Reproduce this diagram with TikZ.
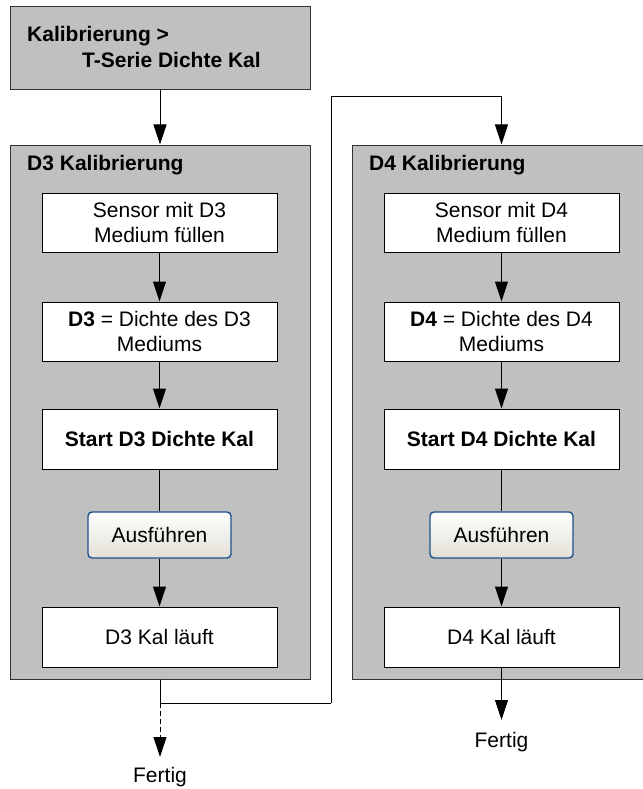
\documentclass[tikz,border=0pt]{standalone}
\usepackage{fontspec}
\setmainfont{Liberation Sans}
\usetikzlibrary{arrows.meta,calc}
\definecolor{panelgray}{RGB}{192,192,192}
\definecolor{panelborder}{RGB}{50,50,50}
\definecolor{btnblue}{RGB}{30,80,140}
\definecolor{btnbottom}{RGB}{226,223,214}
\tikzset{
  txt/.style={font=\fontsize{21}{25}\selectfont},
  panel/.style={draw=panelborder, fill=panelgray, line width=1pt, minimum width=#1, inner sep=0pt},
  wbox/.style={draw=black, fill=white, line width=1pt, minimum width=235pt, inner sep=0pt, align=center, txt},
  btn/.style={draw=btnblue, line width=1.4pt, rounded corners=4pt, top color=white, bottom color=btnbottom,
              minimum width=143pt, minimum height=46pt, inner sep=0pt, txt},
  conn/.style={draw=black, line width=1pt},
  arr/.style={conn, -{Triangle[width=13pt,length=20pt]}},
  title/.style={txt, font=\fontsize{21}{25}\selectfont\bfseries, anchor=base west, inner sep=0pt},
  endlbl/.style={txt, anchor=base},
}
\begin{document}
\begin{tikzpicture}[x=1pt,y=-1pt]
\useasboundingbox (0,0) rectangle (642,789);
% top box
\node[panel=300pt, minimum height=83pt] (top) at (160,48.5) {};
\node[title] (t1) at (27,42) {Kalibrierung >};
\node[title] (t2) at (82,68) {T-Serie Dichte Kal};
% containers
\node[panel=300pt, minimum height=534pt] (d3c) at (160,412) {};
\node[panel=310pt, minimum height=534pt] (d4c) at (507,412) {};
\node[title] (d3t) at (27,170) {D3 Kalibrierung};
\node[title] (d4t) at (369,170) {D4 Kalibrierung};
% D3 steps
\node[wbox, minimum height=59pt] (a1) at (159.5,222.5) {Sensor mit D3\\Medium füllen};
\node[wbox, minimum height=59pt] (a2) at (159.5,331.5) {\textbf{D3} = Dichte des D3\\Mediums};
\node[wbox, minimum height=60pt] (a3) at (159.5,439) {\textbf{Start D3 Dichte Kal}};
\node[btn] (a4) at (159.5,535) {Ausführen};
\node[wbox, minimum height=60pt] (a5) at (159.5,637) {D3 Kal läuft};
% D4 steps
\node[wbox, minimum height=59pt] (b1) at (501.5,222.5) {Sensor mit D4\\Medium füllen};
\node[wbox, minimum height=59pt] (b2) at (501.5,331.5) {\textbf{D4} = Dichte des D4\\Mediums};
\node[wbox, minimum height=60pt] (b3) at (501.5,439) {\textbf{Start D4 Dichte Kal}};
\node[btn] (b4) at (501.5,535) {Ausführen};
\node[wbox, minimum height=60pt] (b5) at (501.5,637) {D4 Kal läuft};
% end labels
\node[endlbl, inner sep=0pt] (f3) at (160,782) {Fertig};
\node[endlbl, inner sep=0pt] (f4) at (501.5,747) {Fertig};
\coordinate (f3in) at (160,757);
\coordinate (f4in) at (501.5,720);
% connectors
\draw[arr] (top.south) -- (d3c.north -| top.south);
\draw[arr] (a1) -- (a2);
\draw[arr] (a2) -- (a3);
\draw[conn] (a3) -- (a4);
\draw[arr] (a4) -- (a5);
\draw[arr] (b1) -- (b2);
\draw[arr] (b2) -- (b3);
\draw[conn] (b3) -- (b4);
\draw[arr] (b4) -- (b5);
\draw[arr] (b5) -- (f4in);
\coordinate (j) at (160,703);
\coordinate (up) at (331,703);
\coordinate (d4in) at (b1 |- d4c.north);
\draw[conn] (d3c.south -| j) -- (j) -- (up);
\draw[arr] (up) |- ($(d4in)+(0,-48)$) -- (d4in);
\draw[arr, dashed, dash pattern=on 5pt off 3pt] (j) -- (f3in);
\end{tikzpicture}
\end{document}
